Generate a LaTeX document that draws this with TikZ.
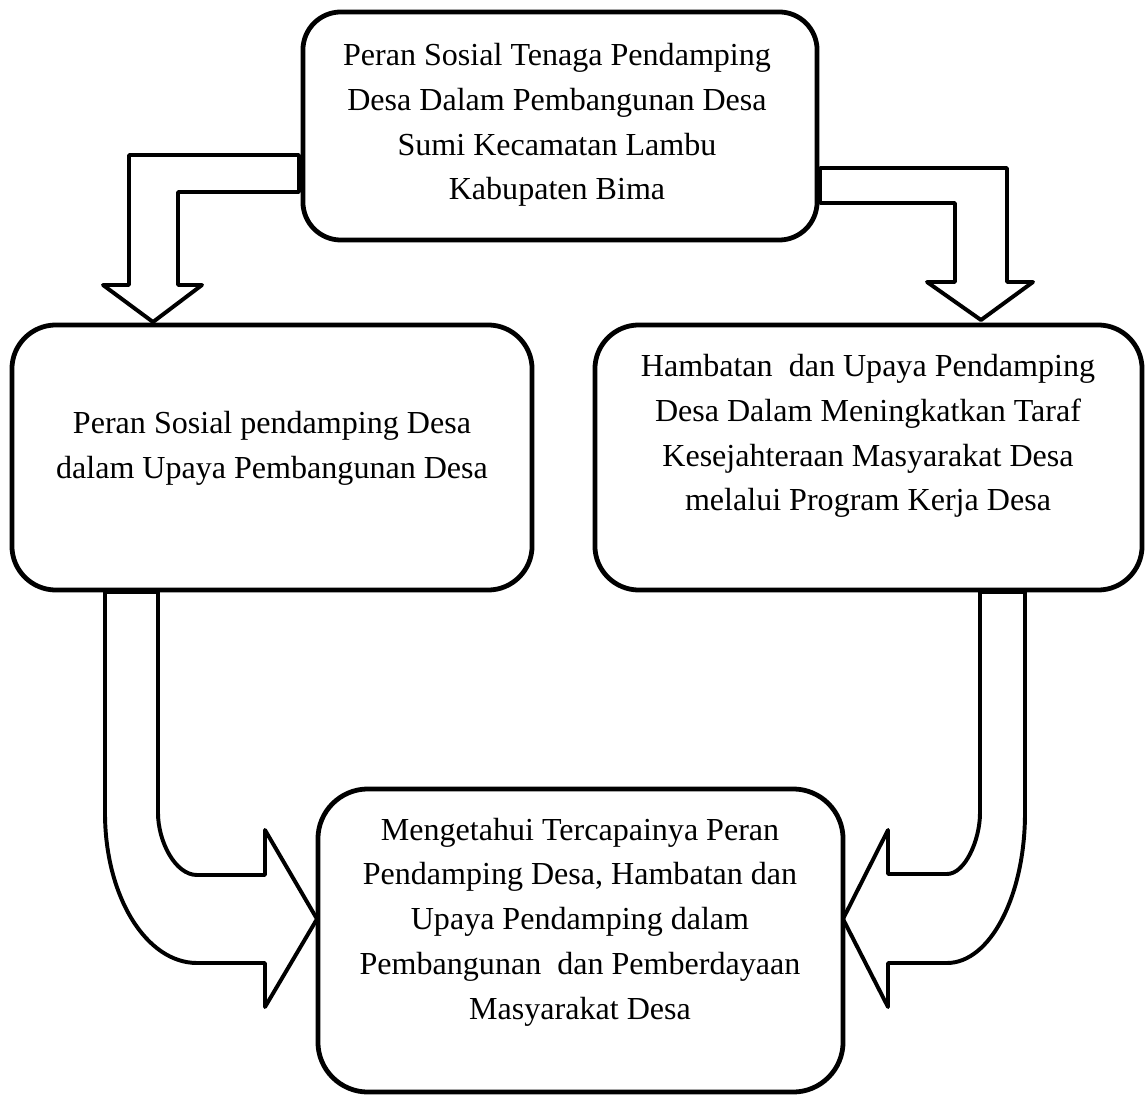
\documentclass[tikz,border=0pt]{standalone}
\usepackage{fontspec}
\setmainfont{Liberation Serif}
\usetikzlibrary{calc}

\begin{document}
\begin{tikzpicture}[x=0.025cm,y=-0.025cm,
	kotak/.style={draw,line width=3.4pt,inner sep=0pt},
	panah/.style={draw,line width=2.8pt,line join=round},
	teks/.style={align=center,font=\fontsize{22.8}{31.8}\selectfont}]
	\useasboundingbox (0,0) rectangle (1146,1097);

	% kotak
	\node[kotak,rounded corners=0.95cm,minimum width=12.85cm,minimum height=5.7cm] (peran) at (560,126) {};
	\node[kotak,rounded corners=1.1cm,minimum width=13cm,minimum height=6.625cm] (sosial) at (272,457.5) {};
	\node[kotak,rounded corners=1.1cm,minimum width=13.675cm,minimum height=6.625cm] (hambatan) at (868.5,457.5) {};
	\node[kotak,rounded corners=1.25cm,minimum width=13.125cm,minimum height=7.575cm] (tujuan) at (580.5,940.5) {};

	\node[teks] (tperan) at (557,125) {Peran Sosial Tenaga Pendamping\\Desa Dalam Pembangunan Desa\\Sumi Kecamatan Lambu\\Kabupaten Bima};
	\node[teks] (tsosial) at (272,448.5) {Peran Sosial pendamping Desa\\dalam Upaya Pembangunan Desa};
	\node[teks] (thambatan) at (868,436) {Hambatan\ \ dan Upaya Pendamping\\Desa Dalam Meningkatkan Taraf\\Kesejahteraan Masyarakat Desa\\melalui Program Kerja Desa};
	\node[teks] (ttujuan) at (580,922) {Mengetahui Tercapainya Peran\\Pendamping Desa, Hambatan dan\\Upaya Pendamping dalam\\Pembangunan\ \ dan Pemberdayaan\\Masyarakat Desa};

	% panah atas
	\draw[panah] (299,155) -- (129,155) -- (129,285) -- (103,285) -- (153,322)
		-- (202,285) -- (178,285) -- (178,192) -- (299,192) -- cycle;
	\draw[panah] (820,168) -- (1007,168) -- (1007,282) -- (1033,282) -- (981,320)
		-- (927,282) -- (955,282) -- (955,203) -- (820,203) -- cycle;

	% panah bawah
	\draw[panah] (105,592) -- (105,813) .. controls (105,896) and (146,963) .. (197,963)
		-- (265,963) -- (265,1007) -- (317,919) -- (265,830) -- (265,875) -- (197,875)
		.. controls (175,875) and (158,841) .. (158,813) -- (158,592) -- cycle;
	\draw[panah] (1025,592) -- (1025,813) .. controls (1025,896) and (990,963) .. (947,963)
		-- (888,963) -- (888,1007) -- (843,919) -- (888,830) -- (888,874) -- (947,874)
		.. controls (965,874) and (980,840) .. (980,813) -- (980,592) -- cycle;
\end{tikzpicture}
\end{document}
